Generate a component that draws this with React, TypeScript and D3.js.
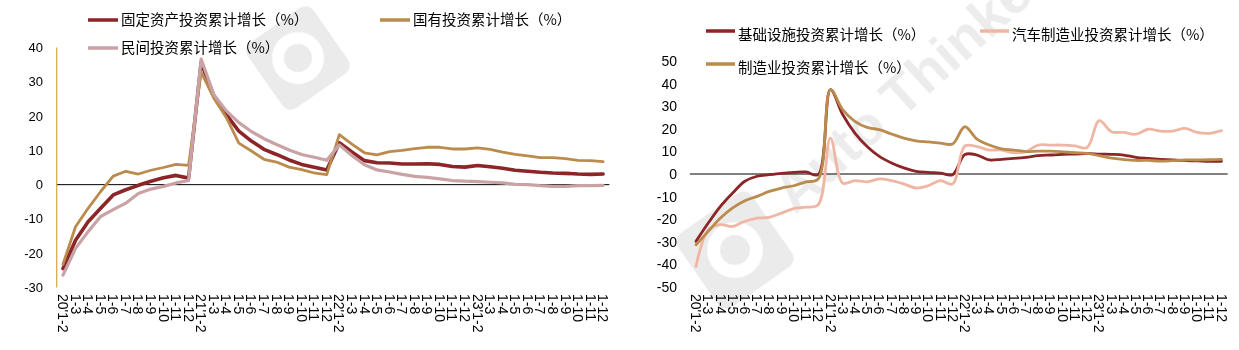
import React from 'react';
import * as d3 from 'd3';

const categories = [
  "20'1-2", '1-3', '1-4', '1-5', '1-6', '1-7', '1-8', '1-9', '1-10', '1-11', '1-12',
  "21'1-2", '1-3 ', '1-4 ', '1-5 ', '1-6 ', '1-7 ', '1-8 ', '1-9 ', '1-10 ', '1-11 ', '1-12 ',
  "22'1-2", '1-3  ', '1-4  ', '1-5  ', '1-6  ', '1-7  ', '1-8  ', '1-9  ', '1-10  ', '1-11  ', '1-12  ',
  "23'1-2", '1-3   ', '1-4   ', '1-5   ', '1-6   ', '1-7   ', '1-8   ', '1-9   ', '1-10   ', '1-11   ', '1-12   ',
];

// Left chart series
const fixedAsset = [
  -24.5, -16.2, -10.8, -6.9, -3.0, -1.5, -0.2, 1.0, 2.0, 2.7, 1.9,
  35.6, 26.0, 20.4, 15.6, 12.7, 10.3, 8.8, 7.2, 5.9, 5.1, 4.3,
  12.2, 9.5, 7.0, 6.4, 6.3, 6.0, 6.0, 6.1, 5.9, 5.3, 5.1,
  5.6, 5.2, 4.8, 4.2, 3.9, 3.6, 3.4, 3.3, 3.1, 3.0, 3.1,
];
const stateOwned = [
  -23.2, -12.3, -6.9, -2.0, 2.5, 3.9, 3.1, 4.2, 5.0, 5.9, 5.6,
  32.8, 25.3, 19.6, 12.1, 9.8, 7.4, 6.6, 5.1, 4.4, 3.4, 2.9,
  14.6, 11.8, 9.3, 8.7, 9.6, 10.0, 10.5, 10.9, 10.9, 10.4, 10.4,
  10.7, 10.3, 9.5, 8.8, 8.4, 7.9, 7.9, 7.6, 7.1, 7.0, 6.7,
];
const privateInv = [
  -26.4, -18.6, -13.7, -9.3, -7.3, -5.4, -2.6, -1.3, -0.5, 0.5, 1.2,
  36.6, 26.3, 21.5, 18.1, 15.5, 13.4, 11.7, 10.1, 8.8, 8.0, 7.1,
  11.6, 8.5, 5.8, 4.3, 3.7, 3.0, 2.4, 2.1, 1.7, 1.2, 1.0,
  0.9, 0.7, 0.5, 0.1, 0.0, -0.3, -0.5, -0.5, -0.3, -0.3, -0.2,
];

// Right chart series
const infra = [
  -29.8, -21.7, -14.3, -8.4, -3.2, -1.0, -0.3, 0.3, 0.7, 0.9, -0.3,
  37.3, 26.3, 18.1, 12.2, 7.8, 4.9, 2.7, 1.2, 0.7, 0.4, -0.3,
  8.6, 8.4, 6.2, 6.5, 6.9, 7.4, 8.1, 8.4, 8.7, 8.8, 9.1,
  8.8, 8.7, 8.4, 7.4, 6.9, 6.5, 6.2, 5.9, 5.8, 5.6, 5.6,
];
const autoMfg = [
  -40.9, -24.6, -22.4, -23.2, -20.9, -19.5, -19.2, -17.3, -15.3, -14.7, -13.6,
  15.9, -4.0, -2.9, -3.5, -2.2, -2.9, -4.4, -6.2, -5.2, -2.9, -4.4,
  12.4, 12.1, 10.6, 10.6, 9.4, 9.9, 12.8, 12.8, 12.8, 12.4, 11.7,
  23.6, 18.7, 18.4, 17.6, 19.8, 19.0, 19.0, 20.2, 18.4, 18.0, 19.2,
];
const manufacturing = [
  -31.3, -25.4, -19.5, -15.0, -11.8, -9.9, -7.7, -6.2, -5.2, -3.5, -2.2,
  37.3, 28.5, 23.3, 20.6, 19.6, 17.7, 15.9, 14.7, 14.2, 13.7, 13.3,
  20.9, 15.4, 12.8, 11.1, 10.6, 9.9, 10.1, 10.1, 9.8, 9.4, 9.1,
  8.1, 7.0, 6.4, 6.0, 6.0, 5.7, 5.9, 6.2, 6.2, 6.3, 6.5,
];

const leftTicks = [-30, -20, -10, 0, 10, 20, 30, 40];
const rightTicks = [-50, -40, -30, -20, -10, 0, 10, 20, 30, 40, 50];

const C_RED = '#8B2527';
const C_GOLD = '#BA8B4D';
const C_PINK = '#C9A2A5';
const C_SALMON = '#F0B6A4';

const NUM_FONT = "'Liberation Sans', Arial, sans-serif";
const CJK_FONT = "'Noto Sans CJK SC', 'Noto Sans', sans-serif";

export default function App() {
  const W = 1239;
  const H = 350;

  const xL = d3.scaleBand<string>().domain(categories).range([56.7, 609.4]);
  const yL = d3.scaleLinear().domain([-30, 40]).range([287.5, 47.5]);
  const xR = d3.scaleBand<string>().domain(categories).range([689.9, 1227.6]);
  const yR = d3.scaleLinear().domain([-50, 50]).range([287, 61]);

  const cxL = (i: number) => (xL(categories[i]) as number) + xL.bandwidth() / 2;
  const cxR = (i: number) => (xR(categories[i]) as number) + xR.bandwidth() / 2;

  const lineL = d3.line<number>().x((_, i) => cxL(i)).y((d) => yL(d)).curve(d3.curveLinear);
  const lineR = d3
    .line<number>()
    .x((_, i) => cxR(i))
    .y((d) => yR(d))
    .curve(d3.curveCatmullRom.alpha(0.5));

  const leftSeries = [
    { name: '固定资产投资累计增长（%）', data: fixedAsset, color: C_RED, w: 3.6, lx: 88, ly: 20 },
    { name: '国有投资累计增长（%）', data: stateOwned, color: C_GOLD, w: 2.8, lx: 380, ly: 20 },
    { name: '民间投资累计增长（%）', data: privateInv, color: C_PINK, w: 3.2, lx: 88, ly: 48 },
  ];
  const rightSeries = [
    { name: '基础设施投资累计增长（%）', data: infra, color: C_RED, w: 2.8, lx: 706, ly: 35 },
    { name: '汽车制造业投资累计增长（%）', data: autoMfg, color: C_SALMON, w: 2.8, lx: 980, ly: 35 },
    { name: '制造业投资累计增长（%）', data: manufacturing, color: C_GOLD, w: 2.8, lx: 706, ly: 68 },
  ];

  const label = (c: string) => c.trim();

  return (
    <svg
      width={W}
      height={H}
      viewBox={`0 0 ${W} ${H}`}
      style={{ position: 'absolute', left: 0, top: 0, background: '#fff' }}
    >
      <rect x={0} y={0} width={W} height={H} fill="#fff" />

      {/* watermark */}
      <g opacity={0.5}>
        <g transform="translate(298,58) rotate(-35)">
          <rect x={-40} y={-40} width={80} height={80} rx={10} fill="#d6d6d6" />
          <circle cx={0} cy={0} r={26} fill="#fff" />
          <circle cx={0} cy={0} r={14} fill="#d6d6d6" />
        </g>
        <g transform="translate(735,250) rotate(-35)">
          <rect x={-45} y={-45} width={90} height={90} rx={10} fill="#d6d6d6" />
          <circle cx={0} cy={0} r={28} fill="#fff" />
          <circle cx={0} cy={0} r={15} fill="#d6d6d6" />
        </g>
        <text
          x={0}
          y={0}
          transform="translate(795,215) rotate(-42)"
          fontFamily={NUM_FONT}
          fontWeight="bold"
          fontSize={56}
          fill="#d9d9d9"
        >
          Auto Thinker
        </text>
      </g>

      {/* LEFT CHART */}
      <line x1={56.7} x2={609.4} y1={yL(0)} y2={yL(0)} stroke="#000" strokeWidth={1} />
      <line x1={56.7} x2={56.7} y1={yL(40)} y2={yL(-30)} stroke="#D9A441" strokeWidth={1.2} />
      {leftTicks.map((t) => (
        <text
          key={'lt' + t}
          x={43}
          y={yL(t)}
          dy="0.35em"
          textAnchor="end"
          fontFamily={NUM_FONT}
          fontSize={13}
          fill="#000"
        >
          {t}
        </text>
      ))}
      {categories.map((c, i) => (
        <text
          key={'lx' + i}
          transform={`translate(${cxL(i)},294) rotate(90)`}
          dy="0.35em"
          textAnchor="start"
          fontFamily={NUM_FONT}
          fontSize={14}
          fill="#000"
        >
          {label(c)}
        </text>
      ))}
      {leftSeries.map((s) => (
        <path
          key={s.name}
          d={lineL(s.data) as string}
          fill="none"
          stroke={s.color}
          strokeWidth={s.w}
          strokeLinejoin="round"
          strokeLinecap="round"
        />
      ))}
      {leftSeries.map((s) => (
        <g key={'lg' + s.name}>
          <line x1={s.lx} x2={s.lx + 30} y1={s.ly} y2={s.ly} stroke={s.color} strokeWidth={3.5} />
          <text x={s.lx + 33} y={s.ly} dy="0.35em" fontFamily={CJK_FONT} fontSize={14.5} fill="#000">
            {s.name}
          </text>
        </g>
      ))}

      {/* RIGHT CHART */}
      <line x1={689.9} x2={1227.6} y1={yR(0)} y2={yR(0)} stroke="#000" strokeWidth={1} />
      {rightTicks.map((t) => (
        <text
          key={'rt' + t}
          x={677}
          y={yR(t)}
          dy="0.35em"
          textAnchor="end"
          fontFamily={NUM_FONT}
          fontSize={14}
          fill="#000"
        >
          {t}
        </text>
      ))}
      {categories.map((c, i) => (
        <text
          key={'rx' + i}
          transform={`translate(${cxR(i)},294) rotate(90)`}
          dy="0.35em"
          textAnchor="start"
          fontFamily={NUM_FONT}
          fontSize={14}
          fill="#000"
        >
          {label(c)}
        </text>
      ))}
      {rightSeries.map((s) => (
        <path
          key={s.name}
          d={lineR(s.data) as string}
          fill="none"
          stroke={s.color}
          strokeWidth={s.w}
          strokeLinejoin="round"
          strokeLinecap="round"
        />
      ))}
      {rightSeries.map((s) => (
        <g key={'rg' + s.name}>
          <line x1={s.lx} x2={s.lx + 29} y1={s.ly - 4} y2={s.ly - 4} stroke={s.color} strokeWidth={3.5} />
          <text x={s.lx + 32} y={s.ly} dy="0.35em" fontFamily={CJK_FONT} fontSize={14.5} fill="#000">
            {s.name}
          </text>
        </g>
      ))}
    </svg>
  );
}
